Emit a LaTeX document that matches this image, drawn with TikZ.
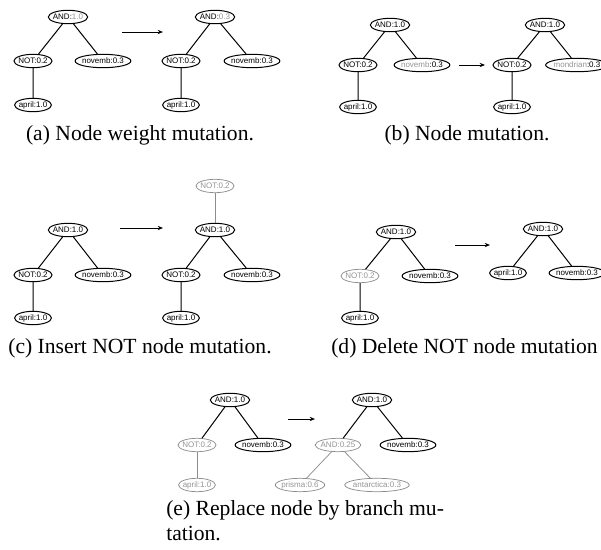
\documentclass[tikz,border=0pt]{standalone}
\usepackage{fontspec}
\setmainfont{Liberation Serif}
\newfontfamily\nodefont{Liberation Sans}
\usetikzlibrary{shapes.geometric,arrows.meta}
\definecolor{gtext}{gray}{0.58}
\definecolor{gline}{gray}{0.55}
\tikzset{
  tn/.style={ellipse, draw, line width=0.75pt, inner xsep=-0.9pt, inner ysep=0.8pt,
    text height=4.3pt, text depth=1.2pt, font=\nodefont\fontsize{6}{6.5}\selectfont},
  gn/.style={tn, draw=gline, text=gtext, line width=0.55pt},
  edge/.style={line width=0.75pt},
  gedge/.style={line width=0.55pt, draw=gline},
  mut/.style={-{Stealth[length=4pt,width=3.2pt]}, line width=0.75pt},
  captxt/.style={font=\fontsize{16.2}{19}\selectfont, inner sep=0pt}
}
\newcommand{\gw}[1]{\textcolor{gtext}{#1}}
\begin{document}
\begin{tikzpicture}[x=0.75pt,y=-0.75pt]
\useasboundingbox (0,0) rectangle (601,550);
\begin{scope}
\clip (0,0) rectangle (601,550);

% (a) node weight mutation
\node[tn] (aA) at (68,17) {AND:\gw{1.0}};
\node[tn] (aN) at (33,61) {NOT:0.2};
\node[tn] (aV) at (103,61) {novemb:0.3};
\node[tn] (aP) at (33,105) {april:1.0};
\draw[edge] (aA) -- (aN) (aA) -- (aV) (aN) -- (aP);
\coordinate (aM1) at (122,32);
\coordinate (aM2) at (163,32);
\draw[mut] (aM1) -- (aM2);
\node[tn] (aA2) at (215,17) {AND:\gw{0.3}};
\node[tn] (aN2) at (181,61) {NOT:0.2};
\node[tn] (aV2) at (252,61) {novemb:0.3};
\node[tn] (aP2) at (181,105) {april:1.0};
\draw[edge] (aA2) -- (aN2) (aA2) -- (aV2) (aN2) -- (aP2);
\node[captxt, anchor=base] (capA) at (140,140) {(a) Node weight mutation.};

% (b) node mutation
\node[tn] (bA) at (390,25) {AND:1.0};
\node[tn] (bN) at (358,65) {NOT:0.2};
\node[tn] (bV) at (422,65) {\gw{novemb}:0.3};
\node[tn] (bP) at (358,107) {april:1.0};
\draw[edge] (bA) -- (bN) (bA) -- (bV) (bN) -- (bP);
\coordinate (bM1) at (459,65);
\coordinate (bM2) at (485,65);
\draw[mut] (bM1) -- (bM2);
\node[tn] (bA2) at (545,25) {AND:1.0};
\node[tn] (bN2) at (512,65) {NOT:0.2};
\node[tn] (bV2) at (577,65) {\gw{mondrian}:0.3};
\node[tn] (bP2) at (512,107) {april:1.0};
\draw[edge] (bA2) -- (bN2) (bA2) -- (bV2) (bN2) -- (bP2);
\node[captxt, anchor=base] (capB) at (467,140) {(b) Node mutation.};

% (c) insert NOT node mutation
\node[tn] (cA) at (68,230) {AND:1.0};
\node[tn] (cN) at (33,275) {NOT:0.2};
\node[tn] (cV) at (103,275) {novemb:0.3};
\node[tn] (cP) at (33,318) {april:1.0};
\draw[edge] (cA) -- (cN) (cA) -- (cV) (cN) -- (cP);
\coordinate (cM1) at (120,228);
\coordinate (cM2) at (163,228);
\draw[mut] (cM1) -- (cM2);
\node[gn] (cT2) at (215,186) {NOT:0.2};
\node[tn] (cA2) at (215,230) {AND:1.0};
\node[tn] (cN2) at (181,275) {NOT:0.2};
\node[tn] (cV2) at (252,275) {novemb:0.3};
\node[tn] (cP2) at (181,318) {april:1.0};
\draw[gedge] (cT2) -- (cA2);
\draw[edge] (cA2) -- (cN2) (cA2) -- (cV2) (cN2) -- (cP2);
\node[captxt, anchor=base] (capC) at (140,353) {(c) Insert NOT node mutation.};

% (d) delete NOT node mutation
\node[tn] (dA) at (396,232) {AND:1.0};
\node[gn] (dN) at (360,276) {NOT:0.2};
\node[tn] (dV) at (430,276) {novemb:0.3};
\node[tn] (dP) at (360,318) {april:1.0};
\draw[edge] (dA) -- (dN) (dA) -- (dV) (dN) -- (dP);
\coordinate (dM1) at (455,245);
\coordinate (dM2) at (490,245);
\draw[mut] (dM1) -- (dM2);
\node[tn] (dA2) at (543,229) {AND:1.0};
\node[tn] (dP2) at (508,273) {april:1.0};
\node[tn] (dV2) at (577,273) {novemb:0.3};
\draw[edge] (dA2) -- (dP2) (dA2) -- (dV2);
\node[captxt, anchor=base west] (capD) at (331,353) {(d) Delete NOT node mutation};

% (e) replace node by branch mutation
\node[tn] (eA) at (230,400) {AND:1.0};
\node[gn] (eN) at (197,445) {NOT:0.2};
\node[tn] (eV) at (263,445) {novemb:0.3};
\node[gn] (eP) at (197,485) {april:1.0};
\draw[edge] (eA) -- (eN) (eA) -- (eV);
\draw[gedge] (eN) -- (eP);
\coordinate (eM1) at (288,419);
\coordinate (eM2) at (315,419);
\draw[mut] (eM1) -- (eM2);
\node[tn] (eA2) at (372,400) {AND:1.0};
\node[gn] (eB2) at (338,445) {AND:0.25};
\node[tn] (eV2) at (408,445) {novemb:0.3};
\node[gn] (eS2) at (300,485) {prisma:0.6};
\node[gn] (eT2) at (377,485) {antarctica:0.3};
\draw[edge] (eA2) -- (eB2) (eA2) -- (eV2);
\draw[gedge] (eB2) -- (eS2) (eB2) -- (eT2);
\node[captxt, anchor=base west] (capE1) at (166,515) {(e) Replace node by branch mu-};
\node[captxt, anchor=base west] (capE2) at (166,540) {tation.};
\end{scope}
\end{tikzpicture}
\end{document}
